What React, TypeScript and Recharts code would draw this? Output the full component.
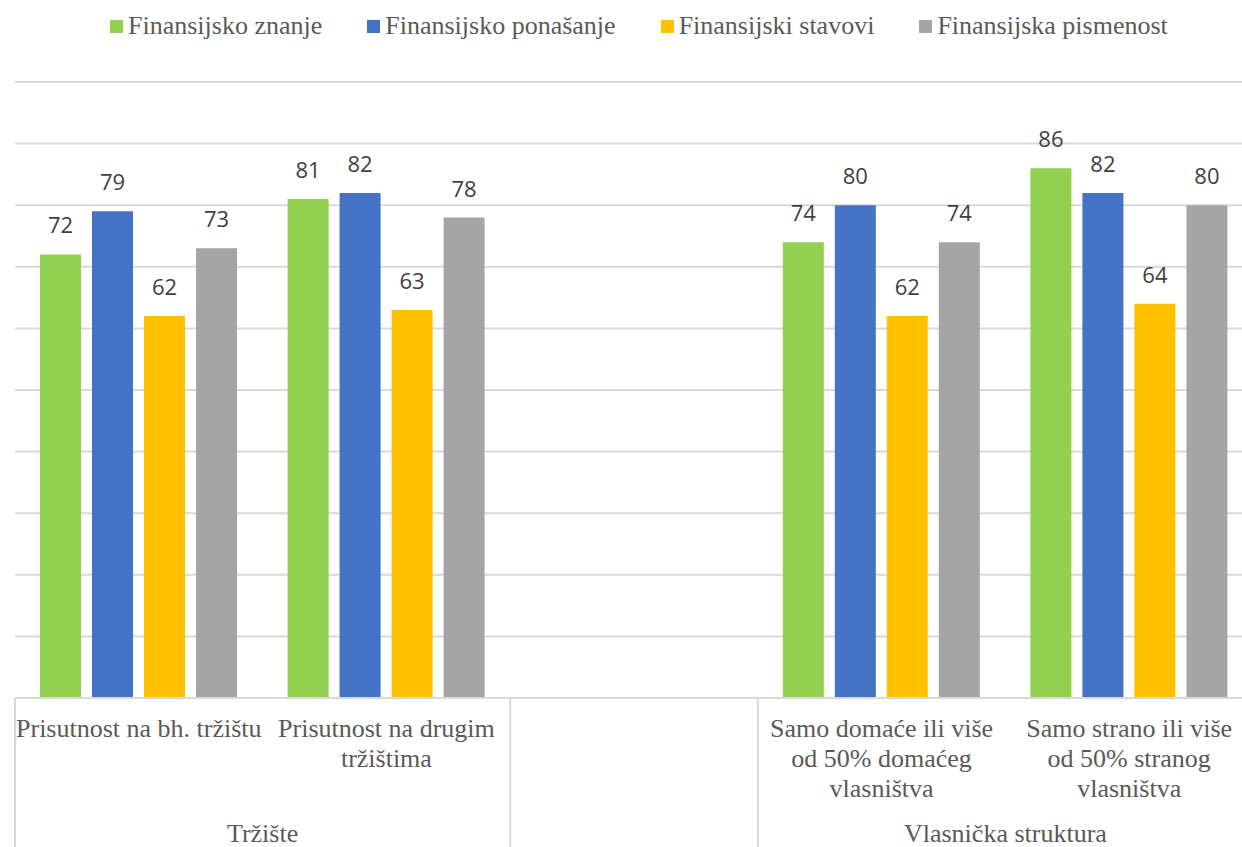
import { BarChart, Bar, XAxis, YAxis, CartesianGrid, LabelList } from "recharts";

const categories = ["bh", "drugim", "gap", "domace", "strano"];
const categoryLines = [
  ["Prisutnost na bh. tržištu"],
  ["Prisutnost na drugim", "tržištima"],
  [],
  ["Samo domaće ili više", "od 50% domaćeg", "vlasništva"],
  ["Samo strano ili više", "od 50% stranog", "vlasništva"],
];
const groups = [
  { label: "Tržište", start: 0, span: 2 },
  { label: "", start: 2, span: 1 },
  { label: "Vlasnička struktura", start: 3, span: 2 },
];

const znanje = [72, 81, null, 74, 86];
const ponasanje = [79, 82, null, 80, 82];
const stavovi = [62, 63, null, 62, 64];
const pismenost = [73, 78, null, 74, 80];

const yTicks = [0, 10, 20, 30, 40, 50, 60, 70, 80, 90, 100];

const series = [
  { key: "znanje", name: "Finansijsko znanje", color: "#92D050" },
  { key: "ponasanje", name: "Finansijsko ponašanje", color: "#4472C4" },
  { key: "stavovi", name: "Finansijski stavovi", color: "#FFC000" },
  { key: "pismenost", name: "Finansijska pismenost", color: "#A5A5A5" },
];

const data = categories.map((c, i) => ({
  cat: c,
  znanje: znanje[i],
  ponasanje: ponasanje[i],
  stavovi: stavovi[i],
  pismenost: pismenost[i],
}));

const W = 1253;
const H = 847;
const LEFT = 15;
const AXIS_H = 149;
const slotW = (W - LEFT) / categories.length;
const serif = "'Liberation Serif', 'Times New Roman', serif";
const sans = "'Open Sans', sans-serif";

function AxisTick(props: any) {
  const { x, y, index } = props;
  const lines = categoryLines[index] || [];
  const g = groups.find((gr) => gr.start === index);
  const left = x - slotW / 2;
  return (
    <g>
      {lines.map((t, i) => (
        <text
          key={i}
          x={x}
          y={y + 39 + i * 30}
          textAnchor="middle"
          fontFamily={serif}
          fontSize={26}
          fill="#595959"
        >
          {t}
        </text>
      ))}
      {g && (
        <>
          <line x1={left} x2={left} y1={y} y2={y + AXIS_H} stroke="#d9d9d9" strokeWidth={2} />
          <text
            x={left + (g.span * slotW) / 2}
            y={y + 144}
            textAnchor="middle"
            fontFamily={serif}
            fontSize={26}
            fill="#595959"
          >
            {g.label}
          </text>
        </>
      )}
    </g>
  );
}

export default function App() {
  return (
    <div
      style={{
        position: "absolute",
        left: 0,
        top: 0,
        width: 1242,
        height: 847,
        overflow: "hidden",
        background: "#fff",
      }}
    >
      <div
        style={{
          position: "absolute",
          top: 11,
          left: 110,
          display: "flex",
          whiteSpace: "nowrap",
          fontFamily: serif,
          fontSize: 26,
          lineHeight: "30px",
          color: "#595959",
          zIndex: 2,
        }}
      >
        {series.map((s) => (
          <div key={s.key} style={{ display: "flex", alignItems: "center", marginRight: 45 }}>
            <span style={{ width: 13, height: 13, background: s.color, marginRight: 5 }} />
            <span>{s.name}</span>
          </div>
        ))}
      </div>
      <BarChart
        width={W}
        height={H}
        data={data}
        margin={{ top: 82, right: 0, left: LEFT, bottom: 0 }}
        barSize={41}
        barGap={11}
      >
        <CartesianGrid vertical={false} stroke="#d9d9d9" strokeWidth={2} />
        <YAxis hide domain={[0, 100]} ticks={yTicks} />
        <XAxis
          dataKey="cat"
          height={AXIS_H}
          interval={0}
          tickSize={0}
          tickMargin={0}
          tickLine={false}
          axisLine={{ stroke: "#d9d9d9", strokeWidth: 2 }}
          tick={<AxisTick />}
        />
        {series.map((s) => (
          <Bar key={s.key} dataKey={s.key} name={s.name} fill={s.color} isAnimationActive={false}>
            <LabelList
              dataKey={s.key}
              position="top"
              offset={21}
              fontFamily={sans}
              fontSize={22}
              fill="#404040"
              formatter={(v: any) => (v == null ? "" : v)}
            />
          </Bar>
        ))}
      </BarChart>
    </div>
  );
}
